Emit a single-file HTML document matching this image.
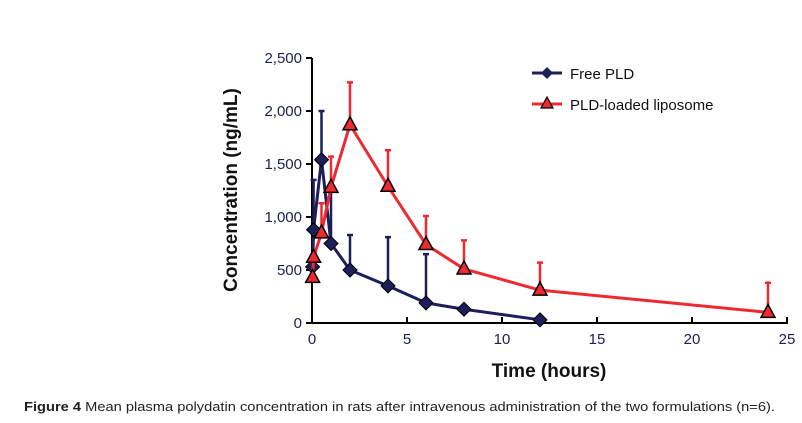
<!DOCTYPE html>
<html><head><meta charset="utf-8"><style>
body{margin:0;background:#fff;width:802px;height:418px;overflow:hidden}
svg text{font-family:"Liberation Sans",Arial,sans-serif}
</style></head><body>
<svg id="chart" width="802" height="418" viewBox="0 0 802 418" xmlns="http://www.w3.org/2000/svg">
<g id="axes"></g><g id="marks"></g>
<g>
<line x1="532" y1="73" x2="562" y2="73" stroke="#1c1f5a" stroke-width="3"/>
<path d="M547 67 L553 73 L547 79 L541 73Z" fill="#1c1f5a"/>
<text x="570" y="79" font-size="15" fill="#111">Free PLD</text>
<line x1="532" y1="104" x2="562" y2="104" stroke="#ee2a30" stroke-width="3"/>
<path d="M547 97 L553 108 L541 108Z" fill="#ee2a30" stroke="#000" stroke-width="1.2"/>
<text x="570" y="110" font-size="15" fill="#111">PLD-loaded liposome</text>
</g>
<text x="549" y="377" font-size="19" font-weight="bold" text-anchor="middle" fill="#111">Time (hours)</text>
<text transform="translate(237,190) rotate(-90)" font-size="19" font-weight="bold" text-anchor="middle" fill="#111">Concentration (ng/mL)</text>
<text x="24" y="411" font-size="12.5" fill="#222" textLength="751" lengthAdjust="spacingAndGlyphs"><tspan font-weight="bold">Figure 4</tspan> Mean plasma polydatin concentration in rats after intravenous administration of the two formulations (n=6).</text>
</svg>
<script>
const xTicks=[0,5,10,15,20,25];
const yTicks=[0,500,1000,1500,2000,2500];
const yTickLabels=["0","500","1,000","1,500","2,000","2,500"];
const freeTimes=[0.033,0.083,0.5,1,2,4,6,8,12];
const freeVals=[530,880,1540,750,500,350,190,130,30];
const freeErr=[0,1350,2000,1250,830,810,650,0,0];
const lipoTimes=[0.033,0.083,0.5,1,2,4,6,8,12,24];
const lipoVals=[430,620,850,1280,1870,1290,740,510,310,100];
const lipoErr=[0,0,1130,1570,2270,1630,1010,780,570,380];
const X=t=>312+t*(787-312)/25;
const Y=v=>323-v*(323-58)/2500;
const NS="http://www.w3.org/2000/svg";
function mk(p,tag,a){const e=document.createElementNS(NS,tag);for(const k in a)e.setAttribute(k,a[k]);p.appendChild(e);return e;}
const ax=document.getElementById('axes'),mg=document.getElementById('marks');
let l=mk(ax,'line',{x1:312,y1:58,x2:312,y2:323,stroke:'#000','stroke-width':2});


l=mk(ax,'line',{x1:311,y1:323,x2:788,y2:323,stroke:'#000','stroke-width':2});


yTicks.forEach((v,i)=>{mk(ax,'line',{x1:306,x2:312,y1:Y(v),y2:Y(v),stroke:'#000','stroke-width':2});
const t=mk(ax,'text',{x:302,y:Y(v)+5,'font-size':15,'text-anchor':'end',fill:'#1a1f4f'});t.textContent=yTickLabels[i];

});
xTicks.forEach(v=>{mk(ax,'line',{x1:X(v),x2:X(v),y1:317,y2:323,stroke:'#000','stroke-width':2});
const t=mk(ax,'text',{x:X(v),y:344,'font-size':15,'text-anchor':'middle',fill:'#1a1f4f'});t.textContent=v;

});
function series(times,vals,errs,col,shape,name){
 times.forEach((t,i)=>{if(errs[i]>vals[i]){const e=mk(mg,'path',{d:`M${X(t)} ${Y(vals[i])}V${Y(errs[i])}M${X(t)-3} ${Y(errs[i])}H${X(t)+3}`,stroke:col,'stroke-width':2.5,fill:'none'});
 
 }});
 const pl=mk(mg,'polyline',{points:times.map((t,i)=>X(t)+','+Y(vals[i])).join(' '),fill:'none',stroke:col,'stroke-width':3,'stroke-linejoin':'round'});
 
 
 times.forEach((t,i)=>{const x=X(t),y=Y(vals[i]);let m;
 if(shape==='d')m=mk(mg,'path',{d:`M${x} ${y-7}L${x+7} ${y}L${x} ${y+7}L${x-7} ${y}Z`,fill:'#1c1f5a',stroke:'#000','stroke-width':1});
 else m=mk(mg,'path',{d:`M${x} ${y-8}L${x+7} ${y+5}L${x-7} ${y+5}Z`,fill:'#ee2a30',stroke:'#000','stroke-width':1.5});
 
 });
}
series(freeTimes,freeVals,freeErr,'#1c1f5a','d','free-pld');
series(lipoTimes,lipoVals,lipoErr,'#ee2a30','t','liposome');
</script>
</body></html>
